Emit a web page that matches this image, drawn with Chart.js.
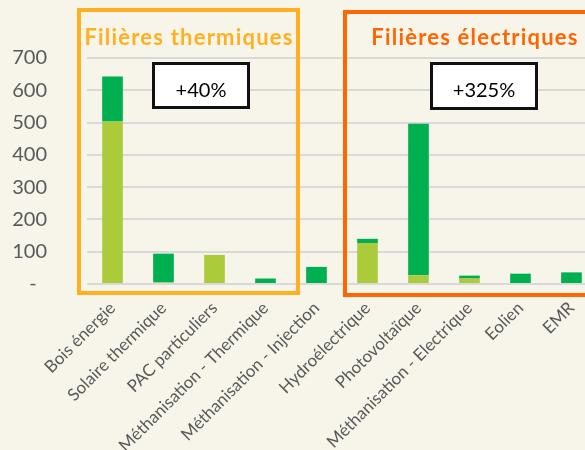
<!DOCTYPE html>
<html lang="fr">
<head>
<meta charset="utf-8">
<title>Filières thermiques et électriques</title>
<script src="https://cdn.jsdelivr.net/npm/chart.js@4.4.0/dist/chart.umd.min.js"></script>
<style>
  html, body {
    margin: 0;
    padding: 0;
    width: 585px;
    height: 450px;
    overflow: hidden;
    background: #F7F5EA;
    font-family: Lato, "Open Sans", sans-serif;
  }
  #wrap { position: relative; width: 585px; height: 450px; overflow: hidden; }
  #chart { position: absolute; left: 0; top: 0; }
  .zone {
    position: absolute;
    box-sizing: border-box;
    border-style: solid;
    pointer-events: none;
  }
  .label {
    position: absolute;
    white-space: nowrap;
    text-align: center;
    line-height: 1;
    pointer-events: none;
  }
  .title {
    font-size: 22px;
    font-weight: 700;
    letter-spacing: 1.2px;
  }
  .pct {
    position: absolute;
    box-sizing: border-box;
    border: 3px solid #111;
    background: #fff;
    pointer-events: none;
  }
</style>
</head>
<body>
<div id="wrap">
  <canvas id="chart" width="600" height="450"></canvas>

  <!-- cadres des deux groupes de filières -->
  <div class="zone" style="left:77px; top:8px; width:223px; height:287px; border-width:4px; border-color:#FFB020;"></div>
  <div class="zone" style="left:343px; top:10px; width:300px; height:287px; border-width:4px; border-color:#FF6600;"></div>

  <div class="label title" style="left:69px; width:240px; top:26px; color:#FFB020;">Filières thermiques</div>
  <div class="label title" style="left:355px; width:240px; top:26px; color:#FF6600;">Filières électriques</div>

  <div class="pct" style="left:152px; top:62px; width:98px; height:47px;"></div>
  <div class="label" style="left:152px; width:98px; top:79px; font-size:20px; color:#000;">+40%</div>

  <div class="pct" style="left:430px; top:62px; width:108px; height:48px;"></div>
  <div class="label" style="left:430px; width:108px; top:79px; font-size:20px; color:#000;">+325%</div>
</div>

<script>
// ============================
//  Données
// ============================
const categories = [
  "Bois énergie",
  "Solaire thermique",
  "PAC particuliers",
  "Méthanisation - Thermique",
  "Méthanisation - Injection",
  "Hydroélectrique",
  "Photovoltaïque",
  "Méthanisation - Electrique",
  "Eolien",
  "EMR"
];

// production existante (vert clair) et apport des projets (vert foncé)
const existing = [503, 5, 90, 0, 0, 127, 27, 17, 0, 0];
const projects = [140, 89, 0, 17, 53, 13, 469, 9, 32, 36];

const yMin = 0;
const yMax = 700;
const yStep = 100;

// ============================
//  Graphique
// ============================
Chart.defaults.font.family = "Lato, 'Open Sans', sans-serif";
Chart.defaults.color = "#595959";

const ctx = document.getElementById("chart");

const chart = new Chart(ctx, {
  type: "bar",
  data: {
    labels: categories,
    datasets: [
      {
        label: "Existant",
        data: existing,
        backgroundColor: "#ABCB3B",
        borderWidth: 0,
        categoryPercentage: 1,
        barPercentage: 0.405
      },
      {
        label: "Projets",
        data: projects,
        backgroundColor: "#00B050",
        borderWidth: 0,
        categoryPercentage: 1,
        barPercentage: 0.405
      }
    ]
  },
  options: {
    responsive: false,
    animation: false,
    layout: {
      padding: { top: 58, right: 2, left: 0, bottom: 0 }
    },
    plugins: {
      legend: { display: false },
      tooltip: { enabled: false }
    },
    scales: {
      x: {
        stacked: true,
        grid: { display: false, drawTicks: false },
        border: { display: false },
        ticks: {
          autoSkip: false,
          maxRotation: 45,
          minRotation: 45,
          padding: 14,
          color: "#595959",
          font: { size: 17 }
        },
        afterFit: scale => { scale.height = 166; }
      },
      y: {
        stacked: true,
        min: yMin,
        max: yMax,
        grid: {
          color: "#D9D9D9",
          lineWidth: 2,
          drawTicks: false
        },
        border: { display: false },
        ticks: {
          stepSize: yStep,
          padding: 40,
          color: "#595959",
          font: { size: 20 },
          callback: v => (v === 0 ? "-  " : v)
        },
        afterFit: scale => { scale.width = 87; }
      }
    }
  }
});
</script>
</body>
</html>
